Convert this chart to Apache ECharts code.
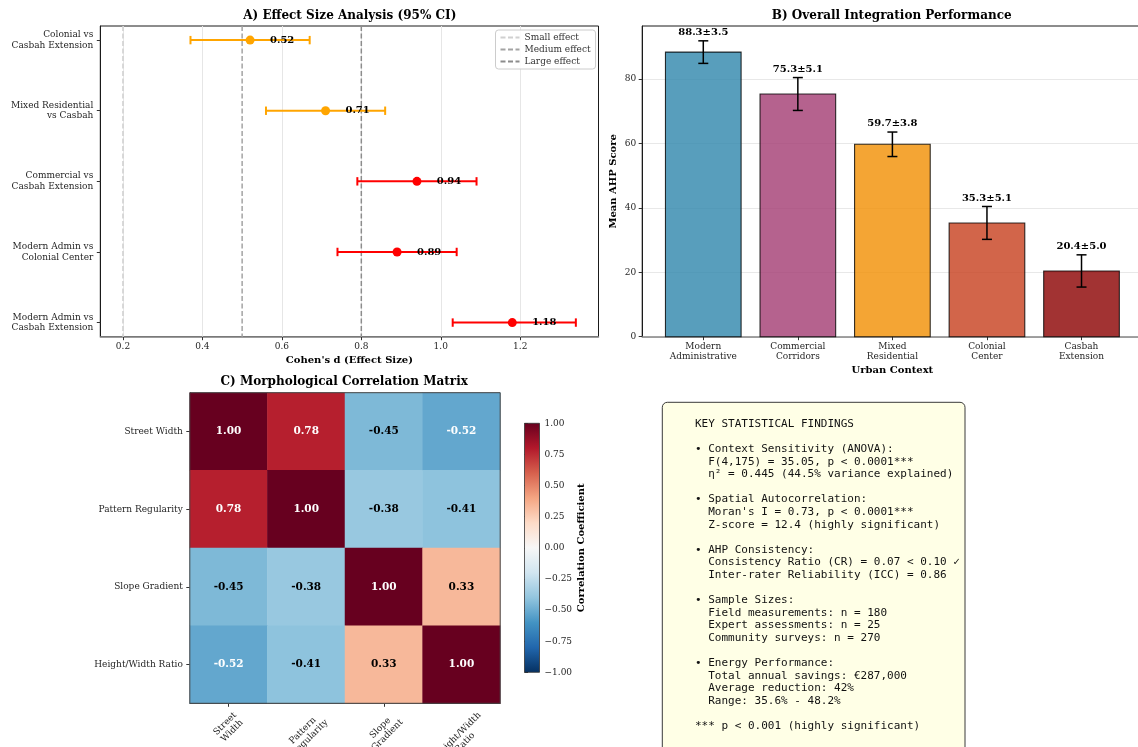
<!DOCTYPE html>
<html>
<head>
<meta charset="utf-8">
<script src="https://cdn.jsdelivr.net/npm/echarts@6/dist/echarts.min.js"></script>
<style>
  html, body { margin: 0; padding: 0; background: #ffffff; }
  #chart { width: 1138px; height: 747px; }
</style>
</head>
<body>
<div id="chart"></div>
<script>
// ---- A) effect sizes with 95% confidence intervals ----
const comparisons = [
  'Colonial vs\nCasbah Extension',
  'Mixed Residential\nvs Casbah',
  'Commercial vs\nCasbah Extension',
  'Modern Admin vs\nColonial Center',
  'Modern Admin vs\nCasbah Extension'
];
const effectSizes = [0.52, 0.71, 0.94, 0.89, 1.18];
const ciLower = [0.37, 0.56, 0.79, 0.74, 1.03];
const ciUpper = [0.67, 0.86, 1.09, 1.04, 1.34];
const effectTicks = [0.2, 0.4, 0.6, 0.8, 1.0, 1.2];
const thresholdValues = [0.2, 0.5, 0.8];
const thresholdNames = ['Small effect', 'Medium effect', 'Large effect'];

// ---- B) mean AHP score per urban context ----
const contexts = [
  'Modern\nAdministrative',
  'Commercial\nCorridors',
  'Mixed\nResidential',
  'Colonial\nCenter',
  'Casbah\nExtension'
];
const meanScores = [88.3, 75.3, 59.7, 35.3, 20.4];
const stdScores = [3.5, 5.1, 3.8, 5.1, 5.0];
const scoreTicks = [0, 20, 40, 60, 80];

// ---- C) correlation between morphological features ----
const features = ['Street Width', 'Pattern Regularity', 'Slope Gradient', 'Height/Width Ratio'];
const featureTickLabels = ['Street\nWidth', 'Pattern\nRegularity', 'Slope\nGradient', 'Height/Width\nRatio'];
const corrMatrix = [
  [1.00, 0.78, -0.45, -0.52],
  [0.78, 1.00, -0.38, -0.41],
  [-0.45, -0.38, 1.00, 0.33],
  [-0.52, -0.41, 0.33, 1.00]
];

// ---- summary box ----
const findingsLines = [
  'KEY STATISTICAL FINDINGS',
  '',
  '\u2022 Context Sensitivity (ANOVA):',
  '  F(4,175) = 35.05, p < 0.0001***',
  '  \u03b7\u00b2 = 0.445 (44.5% variance explained)',
  '',
  '\u2022 Spatial Autocorrelation:',
  "  Moran's I = 0.73, p < 0.0001***",
  '  Z-score = 12.4 (highly significant)',
  '',
  '\u2022 AHP Consistency:',
  '  Consistency Ratio (CR) = 0.07 < 0.10 \u2713',
  '  Inter-rater Reliability (ICC) = 0.86',
  '',
  '\u2022 Sample Sizes:',
  '  Field measurements: n = 180',
  '  Expert assessments: n = 25',
  '  Community surveys: n = 270',
  '',
  '\u2022 Energy Performance:',
  '  Total annual savings: \u20ac287,000',
  '  Average reduction: 42%',
  '  Range: 35.6% - 48.2%',
  '',
  '*** p < 0.001 (highly significant)'
];

// styling
const SERIF = 'DejaVu Serif';
const MONO = 'DejaVu Sans Mono';
const INK = '#262626';
const TICK_SIZE = 9;
const thresholdColors = ['#d0d0d0', '#a3a3a3', '#8c8c8c'];
const barColors = ['#2E86AB', '#A23B72', '#F18F01', '#C73E1D', '#8B0000'];
const rdBuR = ['#053061', '#2166ac', '#4393c3', '#92c5de', '#d1e5f0', '#f7f7f7',
               '#fddbc7', '#f4a582', '#d6604d', '#b2182b', '#67001f'];

const gridA = { left: 100.3, top: 26, width: 498.2, height: 310.7 };
const gridB = { left: 642.2, top: 26, width: 500.4, height: 310.7 };
const gridC = { left: 189.8, top: 392.7, width: 310.4, height: 310.6 };
const gridD = { left: 524.5, top: 423.3, width: 15, height: 249 };

const tickFont = { fontFamily: SERIF, fontSize: TICK_SIZE, color: INK };
const nameFont = { fontFamily: SERIF, fontSize: 10, fontWeight: 'bold', color: '#000' };
const minus = v => (v < 0 ? '\u2212' : '') + Math.abs(v).toFixed(2);
const gridBase = { containLabel: false, outerBoundsMode: 'none' };

// text measurement for the rotated heatmap column labels
const measureCtx = document.createElement('canvas').getContext('2d');
measureCtx.font = TICK_SIZE + 'px "' + SERIF + '"';
const LABEL_LINE = 10;

const chart = echarts.init(document.getElementById('chart'));

const option = {
  animation: false,
  backgroundColor: '#ffffff',
  grid: [
    Object.assign({ show: true, borderColor: '#1a1a1a', borderWidth: 1 }, gridBase, gridA),
    Object.assign({ show: true, borderColor: '#1a1a1a', borderWidth: 1 }, gridBase, gridB),
    Object.assign({ show: false }, gridBase, gridC),
    Object.assign({ show: false }, gridBase, gridD)
  ],
  legend: {
    data: thresholdNames,
    orient: 'vertical',
    left: 495.5,
    top: 30,
    itemWidth: 19,
    itemHeight: 10,
    itemGap: 3,
    padding: [3, 5, 3, 4],
    backgroundColor: 'rgba(255,255,255,0.85)',
    borderColor: '#cccccc',
    borderWidth: 1,
    borderRadius: 3,
    itemStyle: { opacity: 0 },
    textStyle: { fontFamily: SERIF, fontSize: 9, color: '#333' }
  },
  visualMap: {
    type: 'continuous',
    show: false,
    min: -1,
    max: 1,
    seriesIndex: 6,
    inRange: { color: rdBuR }
  },
  xAxis: [
    {
      gridIndex: 0, type: 'value', min: 0.143, max: 1.397,
      name: "Cohen's d (Effect Size)", nameLocation: 'middle', nameGap: 19,
      nameTextStyle: nameFont,
      axisLine: { show: true, onZero: false, lineStyle: { color: '#8a8a8a', width: 1.5 } },
      axisTick: { show: true, length: 3.5, customValues: effectTicks, lineStyle: { color: '#333' } },
      axisLabel: { customValues: effectTicks, formatter: v => v.toFixed(1), margin: 5, ...tickFont },
      splitLine: { show: false }
    },
    {
      gridIndex: 1, type: 'value', min: -0.646, max: 4.646,
      name: 'Urban Context', nameLocation: 'middle', nameGap: 29,
      nameTextStyle: nameFont,
      axisLine: { show: true, onZero: false, lineStyle: { color: '#8a8a8a', width: 1.5 } },
      axisTick: { show: true, length: 3.5, customValues: [0, 1, 2, 3, 4], lineStyle: { color: '#333' } },
      axisLabel: { customValues: [0, 1, 2, 3, 4], formatter: v => contexts[Math.round(v)], margin: 5,
                   lineHeight: 10, ...tickFont },
      splitLine: { show: false }
    },
    {
      gridIndex: 2, type: 'category', data: featureTickLabels,
      axisLine: { show: true, onZero: false, lineStyle: { color: '#444' } },
      axisTick: { show: true, alignWithLabel: true, length: 3.5, lineStyle: { color: '#333' } },
      axisLabel: { show: false },
      splitLine: { show: false }
    },
    { gridIndex: 3, type: 'value', min: 0, max: 1, show: false }
  ],
  yAxis: [
    {
      gridIndex: 0, type: 'value', min: -0.2, max: 4.2, inverse: true,
      axisLine: { show: true, onZero: false, lineStyle: { color: '#1a1a1a' } },
      axisTick: { show: true, length: 3.5, customValues: [0, 1, 2, 3, 4], lineStyle: { color: '#333' } },
      axisLabel: { customValues: [0, 1, 2, 3, 4], formatter: v => comparisons[Math.round(v)],
                   margin: 7, lineHeight: 10.7, align: 'right', ...tickFont },
      splitLine: { show: false }
    },
    {
      gridIndex: 1, type: 'value', min: 0, max: 96.4, interval: 20,
      name: 'Mean AHP Score', nameLocation: 'middle', nameGap: 24, nameRotate: 90,
      nameTextStyle: nameFont,
      axisLine: { show: true, onZero: false, lineStyle: { color: '#1a1a1a' } },
      axisTick: { show: true, length: 3.5, customValues: scoreTicks, lineStyle: { color: '#333' } },
      axisLabel: { customValues: scoreTicks, margin: 6, ...tickFont },
      splitLine: { show: true, lineStyle: { color: '#e8e8e8', width: 1 } }
    },
    {
      gridIndex: 2, type: 'category', data: features, inverse: true,
      axisLine: { show: true, onZero: false, lineStyle: { color: '#444' } },
      axisTick: { show: true, alignWithLabel: true, length: 3.5, lineStyle: { color: '#333' } },
      axisLabel: { interval: 0, margin: 7, ...tickFont },
      splitLine: { show: false }
    },
    {
      gridIndex: 3, type: 'value', min: -1, max: 1, interval: 0.25, position: 'right',
      name: 'Correlation Coefficient', nameLocation: 'middle', nameGap: 36, nameRotate: 90,
      nameTextStyle: nameFont,
      axisLine: { show: false },
      axisTick: { show: true, length: 3.5, lineStyle: { color: '#333' } },
      axisLabel: { formatter: minus, margin: 5, ...tickFont },
      splitLine: { show: false }
    }
  ],
  series: [
    // 0-2: reference effect-size thresholds (also feed the legend)
    ...thresholdValues.map((t, k) => ({
      name: thresholdNames[k],
      type: 'line',
      xAxisIndex: 0, yAxisIndex: 0,
      data: [[t, -0.2], [t, 4.2]],
      symbol: 'none',
      silent: true,
      z: 2,
      itemStyle: { color: thresholdColors[k] },
      lineStyle: { color: thresholdColors[k], width: 1.5, type: [5, 2.5] },
      markLine: k === 0 ? {
        silent: true, symbol: 'none', z: 1,
        label: { show: false },
        lineStyle: { color: '#e6e6e6', width: 1, type: 'solid' },
        data: effectTicks.map(v => ({ xAxis: v }))
      } : undefined
    })),
    // 3: confidence interval whiskers
    {
      type: 'custom',
      xAxisIndex: 0, yAxisIndex: 0,
      z: 3,
      data: effectSizes.map((d, i) => [ciLower[i], ciUpper[i], i, d]),
      renderItem: (params, api) => {
        const row = api.value(2);
        const lo = api.coord([api.value(0), row]);
        const hi = api.coord([api.value(1), row]);
        const color = api.value(3) >= 0.8 ? '#ff0000' : '#ffa500';
        const cap = 4.2;
        const st = { stroke: color, lineWidth: 2 };
        return {
          type: 'group',
          children: [
            { type: 'line', shape: { x1: lo[0], y1: lo[1], x2: hi[0], y2: hi[1] }, style: st },
            { type: 'line', shape: { x1: lo[0], y1: lo[1] - cap, x2: lo[0], y2: lo[1] + cap }, style: st },
            { type: 'line', shape: { x1: hi[0], y1: hi[1] - cap, x2: hi[0], y2: hi[1] + cap }, style: st }
          ]
        };
      }
    },
    // 4: point estimates
    {
      type: 'scatter',
      xAxisIndex: 0, yAxisIndex: 0,
      z: 4,
      symbolSize: 9,
      data: effectSizes.map((d, i) => ({
        value: [d, i],
        itemStyle: { color: d >= 0.8 ? '#ff0000' : '#ffa500', opacity: 1 }
      }))
    },
    // 5: effect size annotations
    {
      type: 'custom',
      xAxisIndex: 0, yAxisIndex: 0,
      z: 5,
      data: effectSizes.map((d, i) => [d, i]),
      renderItem: (params, api) => {
        const p = api.coord([api.value(0) + 0.05, api.value(1)]);
        return {
          type: 'text',
          x: p[0], y: p[1],
          style: {
            text: api.value(0).toFixed(2),
            align: 'left', verticalAlign: 'middle',
            fontFamily: SERIF, fontSize: 10, fontWeight: 'bold', fill: '#000'
          }
        };
      }
    },
    // 6: correlation heatmap
    {
      type: 'heatmap',
      xAxisIndex: 2, yAxisIndex: 2,
      data: corrMatrix.flatMap((row, r) => row.map((v, c) => ({
        value: [c, r, v],
        label: { color: Math.abs(v) > 0.5 ? '#ffffff' : '#000000' }
      }))),
      label: {
        show: true,
        formatter: p => p.value[2].toFixed(2),
        fontFamily: SERIF, fontSize: 10.5, fontWeight: 'bold'
      },
      emphasis: { disabled: true }
    },
    // 7: mean score bars with standard deviation whiskers
    {
      type: 'custom',
      xAxisIndex: 1, yAxisIndex: 1,
      z: 3,
      data: meanScores.map((m, i) => [i, m, stdScores[i]]),
      renderItem: (params, api) => {
        const i = api.value(0), m = api.value(1), s = api.value(2);
        const tl = api.coord([i - 0.4, m]);
        const br = api.coord([i + 0.4, 0]);
        const top = api.coord([i, m + s]);
        const bot = api.coord([i, m - s]);
        const lab = api.coord([i, m + s + 1]);
        const cap = 5;
        const es = { stroke: '#000', lineWidth: 1.5 };
        return {
          type: 'group',
          children: [
            {
              type: 'rect',
              shape: { x: tl[0], y: tl[1], width: br[0] - tl[0], height: br[1] - tl[1] },
              style: { fill: barColors[i], stroke: '#000', lineWidth: 1.1, opacity: 0.8 }
            },
            { type: 'line', shape: { x1: top[0], y1: top[1], x2: bot[0], y2: bot[1] }, style: es },
            { type: 'line', shape: { x1: top[0] - cap, y1: top[1], x2: top[0] + cap, y2: top[1] }, style: es },
            { type: 'line', shape: { x1: bot[0] - cap, y1: bot[1], x2: bot[0] + cap, y2: bot[1] }, style: es },
            {
              type: 'text', x: lab[0], y: lab[1],
              style: {
                text: m.toFixed(1) + '\u00b1' + s.toFixed(1),
                align: 'center', verticalAlign: 'bottom',
                fontFamily: SERIF, fontSize: 10, fontWeight: 'bold', fill: '#000'
              }
            }
          ]
        };
      }
    },
    // 8: colour bar for the heatmap scale
    {
      type: 'custom',
      xAxisIndex: 3, yAxisIndex: 3,
      silent: true,
      data: [[0, 1, 1, -1]],
      renderItem: (params, api) => {
        const a = api.coord([api.value(0), api.value(1)]);
        const b = api.coord([api.value(2), api.value(3)]);
        return {
          type: 'rect',
          shape: { x: a[0], y: a[1], width: b[0] - a[0], height: b[1] - a[1] },
          style: {
            fill: new echarts.graphic.LinearGradient(0, 1, 0, 0,
              rdBuR.map((c, k) => ({ offset: k / (rdBuR.length - 1), color: c }))),
            stroke: '#333', lineWidth: 0.8
          }
        };
      }
    },
    // 9: heatmap column labels, rotated 45 degrees and centred under each tick
    {
      type: 'custom',
      xAxisIndex: 2, yAxisIndex: 2,
      silent: true,
      clip: false,
      data: featureTickLabels.map((t, i) => [i, features.length - 1]),
      renderItem: (params, api) => {
        const i = api.value(0);
        const label = featureTickLabels[i];
        const lines = label.split('\n');
        const w = Math.max(...lines.map(s => measureCtx.measureText(s).width));
        const h = lines.length * LABEL_LINE;
        const half = (w + h) * Math.SQRT1_2 / 2;
        const x = api.coord([i, 0])[0];
        const bottom = params.coordSys.y + params.coordSys.height;
        return {
          type: 'text',
          x: x,
          y: bottom + 3.5 + 3.5 + half,
          rotation: Math.PI / 4,
          style: {
            text: label, align: 'center', verticalAlign: 'middle',
            lineHeight: LABEL_LINE, fontFamily: SERIF, fontSize: TICK_SIZE, fill: INK
          }
        };
      }
    }
  ],
  graphic: [
    { type: 'text', x: 349.8, y: 16, style: { text: 'A) Effect Size Analysis (95% CI)', align: 'center', verticalAlign: 'middle', fontFamily: SERIF, fontSize: 12, fontWeight: 'bold', fill: '#000' } },
    { type: 'text', x: 891.7, y: 16, style: { text: 'B) Overall Integration Performance', align: 'center', verticalAlign: 'middle', fontFamily: SERIF, fontSize: 12, fontWeight: 'bold', fill: '#000' } },
    { type: 'text', x: 344.2, y: 382, style: { text: 'C) Morphological Correlation Matrix', align: 'center', verticalAlign: 'middle', fontFamily: SERIF, fontSize: 12, fontWeight: 'bold', fill: '#000' } },
    // frame around the heatmap
    { type: 'rect', z: 100, silent: true, shape: { x: gridC.left, y: gridC.top, width: gridC.width, height: gridC.height }, style: { fill: null, stroke: '#444', lineWidth: 1 } },
    // summary box
    { type: 'rect', z: 50, shape: { x: 662.3, y: 402.3, width: 302.7, height: 370, r: 5 }, style: { fill: '#ffffe6', stroke: '#3a3a3a', lineWidth: 1 } },
    { type: 'text', z: 51, x: 695, y: 424 - 6.3, style: { text: findingsLines.join('\n'), align: 'left', verticalAlign: 'top', fontFamily: MONO, fontSize: 11, lineHeight: 12.6, fill: '#111' } }
  ]
};

chart.setOption(option);
</script>
</body>
</html>
